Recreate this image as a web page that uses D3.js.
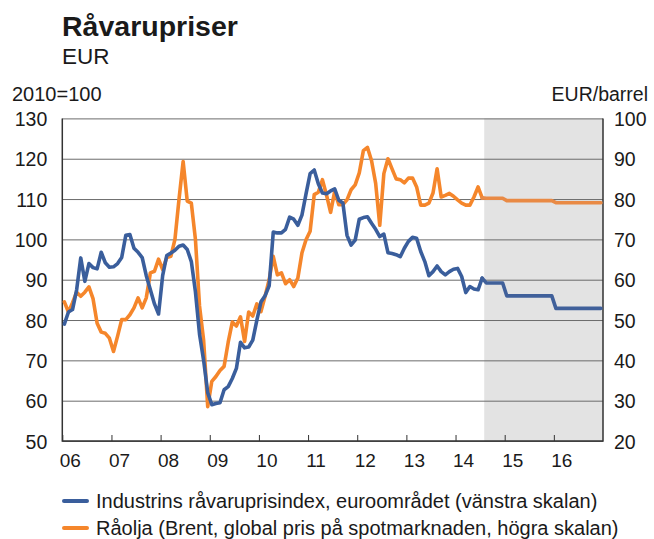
<!DOCTYPE html>
<html>
<head>
<meta charset="utf-8">
<script src="https://cdn.jsdelivr.net/npm/d3@7.9.0/dist/d3.min.js"></script>
<style>
  body { margin: 0; background: #fff; }
  svg text { font-family: Arial, "Liberation Sans", sans-serif; fill: #1a1a1a; }
</style>
</head>
<body>
<div id="chart"></div>
<script>
// monthly data, index 0 = jan 2006
const yearLabels = ["06", "07", "08", "09", "10", "11", "12", "13", "14", "15", "16"];

// Industrins råvaruprisindex, euroområdet (2010=100), jan 2006 - jul 2014
const industryIndex = [
  79, 82, 82.6, 87.5, 95.4, 89.6, 94, 93, 92.7, 96.8, 94.2, 93.1,
  93.2, 94, 95.5, 101, 101.2, 97.8, 96.8, 95.5, 91, 87.5, 84, 81.5,
  91, 96, 96.6, 97.3, 98.3, 98.6, 97.5, 94.5, 87, 76.5, 70, 62,
  59, 59.3, 59.5, 62.7, 63.5, 65.5, 68, 74.5, 73.1, 73.3, 75, 80,
  84.5, 86, 88.5, 101.8, 101.6, 101.6, 102.5, 105.5, 105, 103.5, 106, 111.3,
  116.3, 117.2, 113.8, 111.5, 111.3, 112, 112.5, 109.7, 109, 101, 98.6, 99.8,
  105, 105.4, 105.6, 104, 102.5, 100.7, 101.3, 96.7, 96.5, 96.2, 95.7, 97.8,
  99.5, 100.5, 100.3, 97, 94.5, 91, 92, 93.4, 92, 91.2, 92, 92.6,
  92.8, 90.8, 86.8, 88.3, 87.7, 87.5, 90.4
];

// Råolja Brent, EUR/fat, jan 2006 - jul 2014
const brentOil = [
  54.5, 52, 54.3, 56.9, 55.9, 56.9, 58.2, 55.3, 49.2, 47, 46.7, 45.5,
  42.2, 46, 50.1, 50.1, 51.3, 53, 55.5, 53, 55.5, 61.7, 62.1, 65.1,
  62.5, 65.5, 65.8, 70, 80, 89.3, 79.5, 79, 70, 53.5, 45, 28.5,
  34.8, 36, 37.5, 38.5, 44.5, 49.5, 48.5, 50.8, 44.7, 52, 51, 54,
  52.1, 55.9, 60, 65.8, 61.2, 61.7, 59, 60, 58.3, 60.4, 66.6, 69.9,
  72, 81.1, 81.7, 84.8, 81, 76.7, 81.9, 78.6, 78.6, 79.8, 82.3, 83.5,
  86.5, 92, 92.8, 89.5, 83.9, 73.5, 86.3, 90, 87.5, 85, 84.8, 84,
  85.2, 85.2, 83, 78.5, 78.5, 79, 81.5, 87.5, 80.5, 80.9, 81.4, 80.7,
  79.8, 79, 78.5, 78.5, 80.5, 83, 80.3
];

// prognos per år (månadsindex för första och sista månad)
const forecastYears = ["2014", "2015", "2016"];
const forecastFirstMonth = [103, 108, 120];
const forecastLastMonth = [107, 119, 131];
const industryForecast = [89.2, 86.0, 82.9];
const oilForecast = [80.2, 79.6, 79.1];

const leftTicks = [50, 60, 70, 80, 90, 100, 110, 120, 130];
const rightTicks = [20, 30, 40, 50, 60, 70, 80, 90, 100];

const width = 654, height = 539;
const plot = { left: 62.3, right: 603, top: 118.4, bottom: 441 };

const svg = d3.select("#chart").append("svg")
  .attr("width", width).attr("height", height);

const x = d3.scaleLinear().domain([0, 132]).range([plot.left, plot.right]);
const yLeft = d3.scaleLinear().domain([50, 130]).range([plot.bottom, plot.top]);
const yRight = d3.scaleLinear().domain([20, 100]).range([plot.bottom, plot.top]);

// forecast shading
svg.append("rect")
  .attr("x", x(forecastFirstMonth[0]))
  .attr("y", plot.top)
  .attr("width", x(132) - x(forecastFirstMonth[0]))
  .attr("height", plot.bottom - plot.top)
  .attr("fill", "#e3e3e3");

// gridlines
const grid = svg.append("g")
  .attr("transform", `translate(${plot.left},0)`)
  .call(d3.axisLeft(yLeft).tickValues(leftTicks).tickFormat("").tickSize(-(plot.right - plot.left)));
grid.select(".domain").remove();
grid.selectAll("line").attr("stroke", "#6b6b6b").attr("stroke-width", 1);

// left labels
const leftAxis = svg.append("g")
  .attr("transform", `translate(${plot.left},0)`)
  .call(d3.axisLeft(yLeft).tickValues(leftTicks).tickSize(0).tickPadding(15));
leftAxis.select(".domain").remove();
leftAxis.selectAll("text").style("font-size", "19.5px").attr("dy", "0.36em");

// right labels
const rightAxis = svg.append("g")
  .attr("transform", `translate(${plot.right},0)`)
  .call(d3.axisRight(yRight).tickValues(rightTicks).tickSize(0).tickPadding(11));
rightAxis.select(".domain").remove();
rightAxis.selectAll("text").style("font-size", "19.5px").attr("dy", "0.36em");

// bottom axis, ticks at year boundaries
const xAxis = svg.append("g")
  .attr("transform", `translate(0,${plot.bottom})`)
  .call(d3.axisBottom(x)
    .tickValues(d3.range(0, 132, 12))
    .tickFormat((d, i) => yearLabels[i])
    .tickSize(-6)
    .tickSizeOuter(0));
xAxis.select(".domain").remove();
xAxis.selectAll("line").attr("stroke", "#333").attr("stroke-width", 1);
xAxis.selectAll("text")
  .style("font-size", "19px")
  .attr("x", 7.5)
  .attr("y", 13)
  .attr("dy", "0.71em");

// frame
svg.append("path")
  .attr("d", `M${plot.left},${plot.top}V${plot.bottom}H${plot.right}V${plot.top}`)
  .attr("fill", "none")
  .attr("stroke", "#333")
  .attr("stroke-width", 1.5);

// lines
const lineLeft = d3.line().x(d => x(d[0] + 0.5)).y(d => yLeft(d[1]));
const lineRight = d3.line().x(d => x(d[0] + 0.5)).y(d => yRight(d[1]));

function forecastPoints(actual, forecast) {
  const pts = [[actual.length - 1, actual[actual.length - 1]]];
  forecast.forEach((v, k) => {
    pts.push([forecastFirstMonth[k], v]);
    pts.push([forecastLastMonth[k], v]);
  });
  return pts;
}

const blue = "#3a5e9c", orange = "#f5862b";

svg.append("path")
  .datum(brentOil.map((v, i) => [i, v]))
  .attr("fill", "none").attr("stroke", orange).attr("stroke-width", 3.6)
  .attr("stroke-linejoin", "round").attr("stroke-linecap", "round")
  .attr("d", lineRight);
svg.append("path")
  .datum(forecastPoints(brentOil, oilForecast))
  .attr("fill", "none").attr("stroke", "#e98a45").attr("stroke-width", 3.6)
  .attr("stroke-linejoin", "round").attr("stroke-linecap", "round")
  .attr("d", lineRight);

svg.append("path")
  .datum(industryIndex.map((v, i) => [i, v]))
  .attr("fill", "none").attr("stroke", blue).attr("stroke-width", 3.6)
  .attr("stroke-linejoin", "round").attr("stroke-linecap", "round")
  .attr("d", lineLeft);
svg.append("path")
  .datum(forecastPoints(industryIndex, industryForecast))
  .attr("fill", "none").attr("stroke", "#40609a").attr("stroke-width", 3.6)
  .attr("stroke-linejoin", "round").attr("stroke-linecap", "round")
  .attr("d", lineLeft);

// titles
svg.append("text").attr("x", 62).attr("y", 36)
  .style("font-size", "28.5px").style("font-weight", "bold").text("Råvarupriser");
svg.append("text").attr("x", 62).attr("y", 64)
  .style("font-size", "22.5px").text("EUR");
svg.append("text").attr("x", 12).attr("y", 101)
  .style("font-size", "20px").text("2010=100");
svg.append("text").attr("x", 648).attr("y", 101)
  .style("font-size", "19.5px").style("text-anchor", "end").text("EUR/barrel");

// legend
const legendItems = [
  { label: "Industrins råvaruprisindex, euroområdet (vänstra skalan)", color: blue },
  { label: "Råolja (Brent, global pris på spotmarknaden, högra skalan)", color: orange }
];
const legend = svg.append("g");
legendItems.forEach((d, i) => {
  const y = 501 + i * 27;
  legend.append("line")
    .attr("x1", 64).attr("x2", 87).attr("y1", y).attr("y2", y)
    .attr("stroke", d.color).attr("stroke-width", 4).attr("stroke-linecap", "round");
  legend.append("text").attr("x", 96).attr("y", y).attr("dy", "0.36em")
    .style("font-size", "20px").text(d.label);
});
</script>
</body>
</html>
